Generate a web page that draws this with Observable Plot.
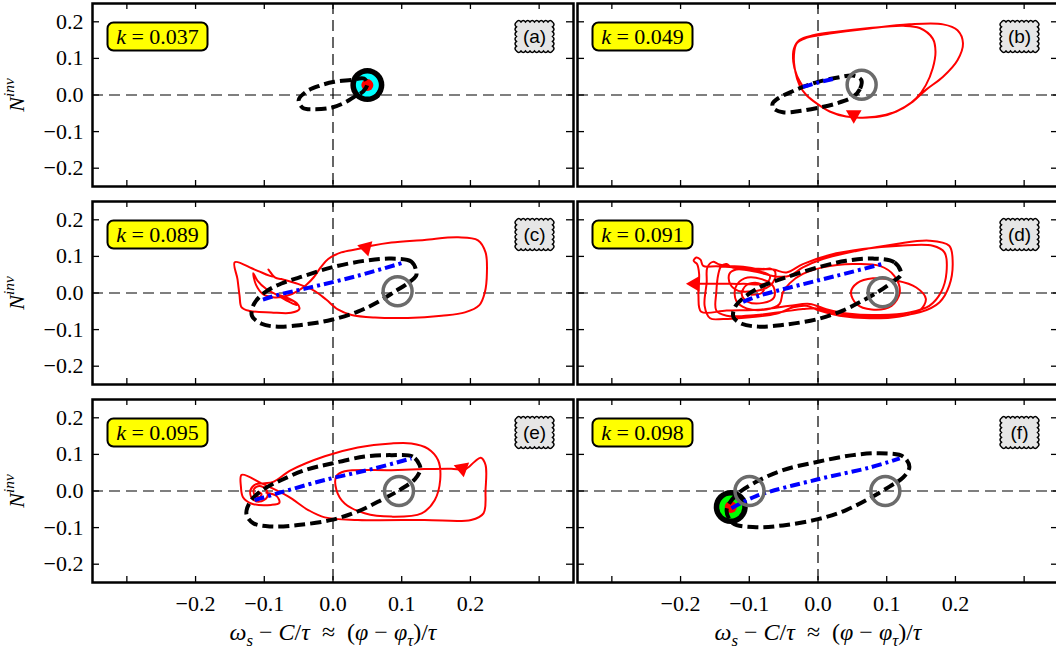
<!DOCTYPE html>
<html><head><meta charset="utf-8">
<script src="https://cdn.jsdelivr.net/npm/d3@7"></script>
<script src="https://cdn.jsdelivr.net/npm/@observablehq/plot@0.6"></script>
<style>
html,body{margin:0;padding:0;background:#fff;overflow:hidden;}
#chart svg{font-family:"Liberation Serif",serif !important;}
</style></head><body>
<div id="chart"></div>
<script>
// ---------- panel meta ----------
const panelLetters = ["(a)","(b)","(c)","(d)","(e)","(f)"];
const kValues = ["0.037","0.049","0.089","0.091","0.095","0.098"];
const panelCol = [0,1,0,1,0,1];
const panelRow = [0,0,1,1,2,2];
const xTicks = [-0.3,-0.2,-0.1,0,0.1,0.2,0.3];
const xTickLabels = [-0.2,-0.1,0,0.1,0.2];
const yTicks = [-0.2,-0.1,0,0.1,0.2];
const xLabel = "ω_s − C/τ  ≈  (φ − φ_τ)/τ";
const yLabel = "N^{inv}";

// ---------- black dashed orbits ----------
const dashA_x = [0.045,0.026,0.002,-0.020,-0.039,-0.050,-0.044,-0.028,-0.003,0.018,0.031,0.044,0.050];
const dashA_y = [0.045,0.041,0.036,0.025,0.009,-0.014,-0.035,-0.039,-0.035,-0.020,-0.005,0.010,0.030];
const dashB_x = [0.063,0.061,0.051,0.027,0.000,-0.027,-0.051,-0.065,-0.066,-0.058,-0.036,-0.022,0.000,0.027,0.051];
const dashB_y = [0.041,0.016,-0.005,-0.023,-0.035,-0.044,-0.047,-0.036,-0.023,-0.009,0.011,0.022,0.036,0.047,0.053];
const dashC_x = [0.121,0.114,0.085,0.046,-0.002,-0.041,-0.075,-0.099,-0.115,-0.118,-0.104,-0.080,-0.041,-0.002,0.036,0.066,0.090,0.109,0.121];
const dashC_y = [0.061,0.086,0.094,0.088,0.070,0.047,0.026,0.002,-0.030,-0.062,-0.084,-0.092,-0.086,-0.073,-0.051,-0.024,0.004,0.027,0.047];
const dashD_x = [0.121,0.111,0.080,0.041,0.000,-0.046,-0.080,-0.104,-0.121,-0.123,-0.111,-0.085,-0.046,0.000,0.036,0.065,0.090,0.109,0.120];
const dashD_y = [0.056,0.084,0.094,0.088,0.070,0.043,0.020,-0.007,-0.039,-0.066,-0.084,-0.092,-0.086,-0.071,-0.048,-0.021,0.006,0.031,0.047];
const dashE_x = [0.126,0.116,0.085,0.046,-0.002,-0.041,-0.075,-0.099,-0.119,-0.126,-0.116,-0.090,-0.051,-0.002,0.036,0.070,0.099,0.119,0.127];
const dashE_y = [0.071,0.094,0.098,0.094,0.075,0.057,0.030,0.007,-0.025,-0.063,-0.088,-0.097,-0.093,-0.079,-0.056,-0.025,0.005,0.032,0.057];
const dashF_x = [0.133,0.124,0.090,0.051,0.000,-0.051,-0.090,-0.119,-0.133,-0.124,-0.090,-0.051,0.000,0.041,0.075,0.104,0.124];
const dashF_y = [0.066,0.094,0.103,0.098,0.080,0.057,0.025,-0.011,-0.052,-0.088,-0.099,-0.094,-0.077,-0.052,-0.020,0.012,0.037];

// ---------- blue dash-dot lines ----------
const blueB_x = [-0.022,0.000,0.022];
const blueB_y = [0.022,0.034,0.044];
const blueC_x = [-0.102,-0.080,-0.036,0.036,0.104];
const blueC_y = [-0.018,-0.005,0.014,0.047,0.084];
const blueD_x = [-0.109,-0.085,-0.041,0.027,0.097];
const blueD_y = [-0.024,-0.007,0.015,0.047,0.081];
const blueE_x = [-0.114,-0.080,-0.012,0.061,0.114];
const blueE_y = [-0.025,-0.006,0.030,0.062,0.089];
const blueF_x = [-0.126,-0.090,0.000,0.075,0.119];
const blueF_y = [-0.047,-0.014,0.032,0.064,0.089];

// ---------- red trajectories ----------
const redB_x = [-0.022,-0.031,-0.036,-0.035,-0.027,-0.007,0.027,0.075,0.124,0.148,0.167,0.171,0.167,0.157,0.143,0.124,0.099,0.065,0.041,0.017,-0.002,-0.017,-0.027,-0.033,-0.035,-0.031,-0.017,0.017,0.075,0.133,0.182,0.203,0.211,0.203,0.182,0.157,0.138,0.114,0.090,0.061,0.050];
const redB_y = [0.023,0.054,0.091,0.127,0.150,0.163,0.173,0.183,0.189,0.183,0.154,0.118,0.073,0.027,-0.009,-0.036,-0.054,-0.062,-0.059,-0.045,-0.023,0.000,0.027,0.064,0.109,0.141,0.156,0.168,0.182,0.193,0.193,0.177,0.141,0.095,0.050,0.014,-0.018,-0.045,-0.059,-0.062,-0.061];
const redC_x = [-0.080,-0.068,-0.056,-0.053,-0.063,-0.080,-0.097,-0.110,-0.116,-0.112,-0.102,-0.085,-0.066,-0.051,-0.039,-0.028,-0.018,-0.007,0.012,0.036,0.056,0.085,0.133,0.182,0.211,0.222,0.224,0.221,0.213,0.192,0.158,0.109,0.061,0.027,0.007,-0.010,-0.027,-0.051,-0.075,-0.084,-0.094,-0.087,-0.114,-0.143,-0.139,-0.136,-0.133,-0.121,-0.090,-0.061,-0.049,-0.053,-0.066,-0.080];
const redC_y = [-0.005,-0.012,-0.024,-0.033,-0.025,-0.007,0.011,0.034,0.054,0.022,-0.003,-0.012,-0.007,0.006,0.022,0.043,0.070,0.093,0.111,0.120,0.129,0.138,0.145,0.152,0.144,0.111,0.056,0.002,-0.033,-0.053,-0.062,-0.068,-0.067,-0.060,-0.045,-0.018,0.006,0.025,0.038,0.042,0.064,0.045,0.064,0.084,0.038,-0.007,-0.039,-0.049,-0.053,-0.054,-0.044,-0.027,-0.016,-0.007];
const redD_x = [
  -0.097,-0.082,-0.078,-0.087,-0.104,-0.111,-0.102,-0.080,-0.064,-0.065,-0.082,-0.107,-0.120,-0.119,-0.104,-0.075,-0.056,-0.051,
  -0.041,-0.022,0.007,0.051,0.090,0.111,0.119,0.107,0.078,0.056,0.048,0.057,0.080,0.114,0.143,0.157,0.148,0.119,0.075,0.031,0.002,-0.017,
  -0.036,-0.061,-0.099,-0.138,-0.157,-0.165,-0.162,-0.161,-0.153,-0.145,-0.133,-0.109,-0.082,-0.070,-0.063,-0.063,-0.070,-0.082,-0.099,-0.116,-0.128,-0.129,-0.119,-0.090,-0.061,-0.041,
  -0.022,0.007,0.056,0.114,0.162,0.191,0.196,0.191,0.177,0.148,0.104,0.056,0.022,-0.002,-0.022,
  -0.051,-0.090,-0.133,-0.148,-0.148,-0.145,-0.141,-0.133,-0.126,-0.099,-0.065,-0.046,
  -0.022,0.017,0.065,0.119,0.167,0.184,0.187,0.179,0.162,0.133,0.090,0.046,0.012,-0.012,
  -0.041,-0.080,-0.133,-0.170,-0.174,-0.173,-0.176,-0.181,-0.177,-0.171,-0.167,-0.148,-0.119,-0.090,-0.070,-0.075,-0.109,-0.133,-0.157,-0.179];
const redD_y = [
  -0.005,0.000,0.015,0.027,0.022,-0.003,-0.024,-0.027,-0.012,0.018,0.038,0.040,0.015,-0.021,-0.042,-0.045,-0.030,0.002,
  0.027,0.052,0.070,0.079,0.074,0.047,0.002,-0.035,-0.045,-0.030,0.002,0.027,0.040,0.034,0.015,-0.016,-0.048,-0.064,-0.069,-0.062,-0.048,-0.035,
  -0.039,-0.057,-0.066,-0.071,-0.069,-0.035,0.029,0.070,0.085,0.079,0.074,0.072,0.064,0.067,0.060,0.038,0.020,0.009,0.004,0.006,0.025,0.052,0.064,0.058,0.045,0.047,
  0.070,0.093,0.115,0.134,0.143,0.129,0.084,0.020,-0.025,-0.053,-0.064,-0.062,-0.053,-0.042,-0.044,
  -0.051,-0.060,-0.062,-0.048,0.002,0.052,0.073,0.079,0.070,0.067,0.064,0.056,
  0.079,0.104,0.120,0.129,0.129,0.111,0.056,0.002,-0.035,-0.053,-0.060,-0.057,-0.044,-0.030,
  -0.035,-0.045,-0.048,-0.051,-0.007,0.052,0.079,0.088,0.097,0.091,0.074,0.073,0.070,0.061,0.047,0.027,0.025,0.025,0.025,0.025];
const redE_x = [-0.109,-0.104,-0.107,-0.114,-0.115,-0.107,-0.097,-0.096,-0.107,-0.118,-0.120,-0.112,-0.099,-0.087,-0.061,-0.012,0.036,0.085,0.114,0.138,0.153,0.156,0.148,0.129,0.085,0.046,0.017,0.005,0.005,0.017,0.085,0.133,0.172,0.192,0.206,0.215,0.222,0.222,0.219,0.201,0.133,0.036,-0.012,-0.036,-0.066,-0.104,-0.133,-0.134,-0.131,-0.119,-0.090,-0.078,-0.082,-0.097];
const redE_y = [-0.002,-0.008,-0.017,-0.011,0.005,0.014,0.003,-0.017,-0.029,-0.020,0.003,0.019,0.021,0.025,0.057,0.095,0.119,0.130,0.130,0.116,0.084,0.030,-0.025,-0.061,-0.070,-0.061,-0.034,0.003,0.041,0.054,0.057,0.060,0.061,0.059,0.080,0.091,0.071,0.003,-0.061,-0.079,-0.079,-0.079,-0.072,-0.052,-0.014,0.021,0.044,0.012,-0.017,-0.034,-0.038,-0.032,-0.014,-0.005];

// ---------- markers ----------
const grayPanel = [1,2,3,4,5,5];
const grayX = [0.0635,0.094,0.094,0.096,-0.0997,0.098];
const grayY = [0.028,0.005,0.002,0.000,0.000,0.000];
const discPanel = [0,5];
const discX = [0.050,-0.127];
const discY = [0.027,-0.044];
const ringColors = ["#00ffff","#00ff00"];
const arrowPanel = [1,2,3,4];
const arrowX = [0.052,0.048,-0.179,0.188];
const arrowY = [-0.054,0.124,0.025,0.062];
const arrowAngle = [180,165,270,170];

// ---------- build tables ----------
function rows(p, xs, ys) { return xs.map((x, i) => ({p, col: panelCol[p], row: panelRow[p], x, y: ys[i]})); }
const dashData = [...rows(0,dashA_x,dashA_y),...rows(1,dashB_x,dashB_y),...rows(2,dashC_x,dashC_y),...rows(3,dashD_x,dashD_y),...rows(4,dashE_x,dashE_y),...rows(5,dashF_x,dashF_y)];
const blueData = [...rows(1,blueB_x,blueB_y),...rows(2,blueC_x,blueC_y),...rows(3,blueD_x,blueD_y),...rows(4,blueE_x,blueE_y),...rows(5,blueF_x,blueF_y)];
const redData = [...rows(1,redB_x,redB_y),...rows(2,redC_x,redC_y),...rows(3,redD_x,redD_y),...rows(4,redE_x,redE_y)];
const grayData = grayPanel.map((p,i) => ({p, col: panelCol[p], row: panelRow[p], x: grayX[i], y: grayY[i]}));
const discData = discPanel.map((p,i) => ({p, col: panelCol[p], row: panelRow[p], x: discX[i], y: discY[i]}));
const arrowData = arrowPanel.map((p,i) => ({p, col: panelCol[p], row: panelRow[p], x: arrowX[i], y: arrowY[i], a: arrowAngle[i]}));
const panelIdx = [0,1,2,3,4,5];

const roundBox = {draw(ctx) {
  const w = 100, h = 28, r = 6, x0 = -w/2, y0 = -h/2, x1 = w/2, y1 = h/2;
  ctx.moveTo(x0 + r, y0);
  ctx.lineTo(x1 - r, y0); ctx.arcTo(x1, y0, x1, y0 + r, r);
  ctx.lineTo(x1, y1 - r); ctx.arcTo(x1, y1, x1 - r, y1, r);
  ctx.lineTo(x0 + r, y1); ctx.arcTo(x0, y1, x0, y1 - r, r);
  ctx.lineTo(x0, y0 + r); ctx.arcTo(x0, y0, x0 + r, y0, r);
  ctx.closePath();
}};
const toothBox = {draw(ctx) {
  const w = 36, h = 29, a = 1.5, nx = 8, ny = 6, x0 = -w/2, y0 = -h/2;
  ctx.moveTo(x0, y0);
  for (let i = 0; i < nx; i++) { const xa = x0 + i*w/nx, xb = xa + w/nx; ctx.quadraticCurveTo((xa+xb)/2, y0 - 2*a, xb, y0); }
  for (let i = 0; i < ny; i++) { const ya = y0 + i*h/ny, yb = ya + h/ny; ctx.quadraticCurveTo(x0 + w + 2*a, (ya+yb)/2, x0 + w, yb); }
  for (let i = 0; i < nx; i++) { const xa = x0 + w - i*w/nx, xb = xa - w/nx; ctx.quadraticCurveTo((xa+xb)/2, y0 + h + 2*a, xb, y0 + h); }
  for (let i = 0; i < ny; i++) { const ya = y0 + h - i*h/ny, yb = ya - h/ny; ctx.quadraticCurveTo(x0 - 2*a, (ya+yb)/2, x0, yb); }
  ctx.closePath();
}};

const F = {fx: "col", fy: "row"};
const FI = {fx: i => panelCol[i], fy: i => panelRow[i]};
const fmt = d3.format(".1f");
const SERIF = "Liberation Serif";

const svg = Plot.plot({
  width: 1059, height: 650,
  marginLeft: 91.5, marginRight: 0.5, marginTop: 1.5, marginBottom: 67,
  style: {fontFamily: SERIF, fontSize: "22px", maxWidth: "none", background: "white", color: "black"},
  x: {domain: [-0.35, 0.35]},
  y: {domain: [-0.25, 0.25]},
  fx: {domain: [0,1], paddingInner: 0.0083, paddingOuter: 0, axis: null},
  fy: {domain: [0,1,2], paddingInner: 0.075, paddingOuter: 0, axis: null},
  marks: [
    Plot.ruleX([0], {stroke: "black", strokeWidth: 1.2, strokeDasharray: "11,6"}),
    Plot.ruleY([0], {stroke: "black", strokeWidth: 1.2, strokeDasharray: "11,6"}),
    Plot.line(redData, {...F, x: "x", y: "y", z: "p", stroke: "#ff0000", strokeWidth: 2, curve: "catmull-rom"}),
    Plot.dot(discData, {...F, x: "x", y: "y", r: 17, fill: "black"}),
    Plot.dot([discData[0]], {...F, x: "x", y: "y", r: 11.5, fill: ringColors[0]}),
    Plot.dot([discData[1]], {...F, x: "x", y: "y", r: 11.5, fill: ringColors[1]}),
    Plot.dot(discData, {...F, x: "x", y: "y", r: 6, fill: "#ff0000"}),
    Plot.line(dashData, {...F, x: "x", y: "y", z: "p", stroke: "black", strokeWidth: 4, strokeDasharray: "11,5", strokeLinecap: "butt", curve: "catmull-rom-closed"}),
    Plot.line(blueData, {...F, x: "x", y: "y", z: "p", stroke: "#0000ff", strokeWidth: 4, strokeDasharray: "10,4,3,4", strokeLinecap: "butt", curve: "catmull-rom"}),
    Plot.dot(grayData, {...F, x: "x", y: "y", r: 14.5, stroke: "#6b6b6b", strokeWidth: 3.5, fill: "none"}),
    Plot.dot(arrowData, {...F, x: "x", y: "y", symbol: "triangle2", r: 7.5, fill: "#ff0000", rotate: "a"}),
    Plot.tickX(xTicks, {x: d => d, insetBottom: 177, stroke: "black", strokeWidth: 1.3}),
    Plot.tickX(xTicks, {x: d => d, insetTop: 177, stroke: "black", strokeWidth: 1.3}),
    Plot.tickY(yTicks, {y: d => d, insetRight: 474, stroke: "black", strokeWidth: 1.3}),
    Plot.tickY(yTicks, {y: d => d, insetLeft: 474, stroke: "black", strokeWidth: 1.3}),
    Plot.frame({stroke: "black", strokeWidth: 2.5}),
    Plot.axisX(xTickLabels, {anchor: "bottom", tickSize: 0, tickPadding: 13, tickFormat: fmt, label: null, fontFamily: SERIF, fontSize: 22}),
    Plot.axisY(yTicks, {anchor: "left", tickSize: 0, tickPadding: 9, tickFormat: fmt, label: null, fontFamily: SERIF, fontSize: 22}),
    Plot.dot(panelIdx, {...FI, frameAnchor: "top-left", dx: 65, dy: 33, r: 10, symbol: roundBox, fill: "#ffff00", stroke: "black", strokeWidth: 2}),
    Plot.text(panelIdx, {...FI, frameAnchor: "top-left", dx: 65, dy: 33, text: i => "k = " + kValues[i], fontFamily: SERIF, fontSize: 22, textAnchor: "middle", lineAnchor: "middle"}),
    Plot.dot(panelIdx, {...FI, frameAnchor: "top-right", dx: -39, dy: 33, r: 10, symbol: toothBox, fill: "#e6e6e6", stroke: "black", strokeWidth: 1.5}),
    Plot.text(panelIdx, {...FI, frameAnchor: "top-right", dx: -39, dy: 33, text: i => panelLetters[i], fontFamily: "Liberation Sans", fontSize: 19, textAnchor: "middle", lineAnchor: "middle"}),
    Plot.text([0,1,2], {fx: () => 0, fy: d => d, frameAnchor: "left", dx: -69, rotate: -90, text: () => yLabel, fontFamily: SERIF, fontSize: 22, textAnchor: "middle", lineAnchor: "bottom"}),
    Plot.text([0,1], {fx: d => d, fy: () => 2, frameAnchor: "bottom", dy: 57, text: () => xLabel, fontFamily: SERIF, fontSize: 24, textAnchor: "middle", lineAnchor: "bottom"})
  ]
});
document.getElementById("chart").append(svg);

// ---------- math-style text (italic letters, sub/superscripts) ----------
const svgNS = "http://www.w3.org/2000/svg";
function renderMath(el, fs) {
  const src = el.textContent;
  el.textContent = "";
  let i = 0, offset = 0;
  const isLetter = c => /[A-Za-z\u03b1-\u03c9\u0391-\u03a9]/.test(c);
  function add(t, italic, small, dy) {
    const ts = document.createElementNS(svgNS, "tspan");
    ts.textContent = t;
    if (italic) ts.setAttribute("font-style", "italic");
    if (small) ts.setAttribute("font-size", (fs * 0.7).toFixed(1) + "px");
    if (dy) ts.setAttribute("dy", dy.toFixed(2));
    el.appendChild(ts);
  }
  while (i < src.length) {
    const c = src[i];
    if (c === "_" || c === "^") {
      let grp;
      if (src[i + 1] === "{") { const j = src.indexOf("}", i); grp = src.slice(i + 2, j); i = j + 1; }
      else { grp = src[i + 1]; i += 2; }
      const target = c === "_" ? fs * 0.25 : -fs * 0.42;
      add(grp, true, true, target - offset);
      offset = target;
      continue;
    }
    let j = i; const it = isLetter(c);
    while (j < src.length && src[j] !== "_" && src[j] !== "^" && isLetter(src[j]) === it) j++;
    add(src.slice(i, j), it, false, offset ? -offset : 0);
    offset = 0;
    i = j;
  }
}
d3.select(svg).selectAll("text").each(function() {
  const t = this.textContent;
  if (t.startsWith("k = ")) renderMath(this, 22);
  else if (t === yLabel) renderMath(this, 22);
  else if (t === xLabel) renderMath(this, 24);
});
</script>
</body></html>
